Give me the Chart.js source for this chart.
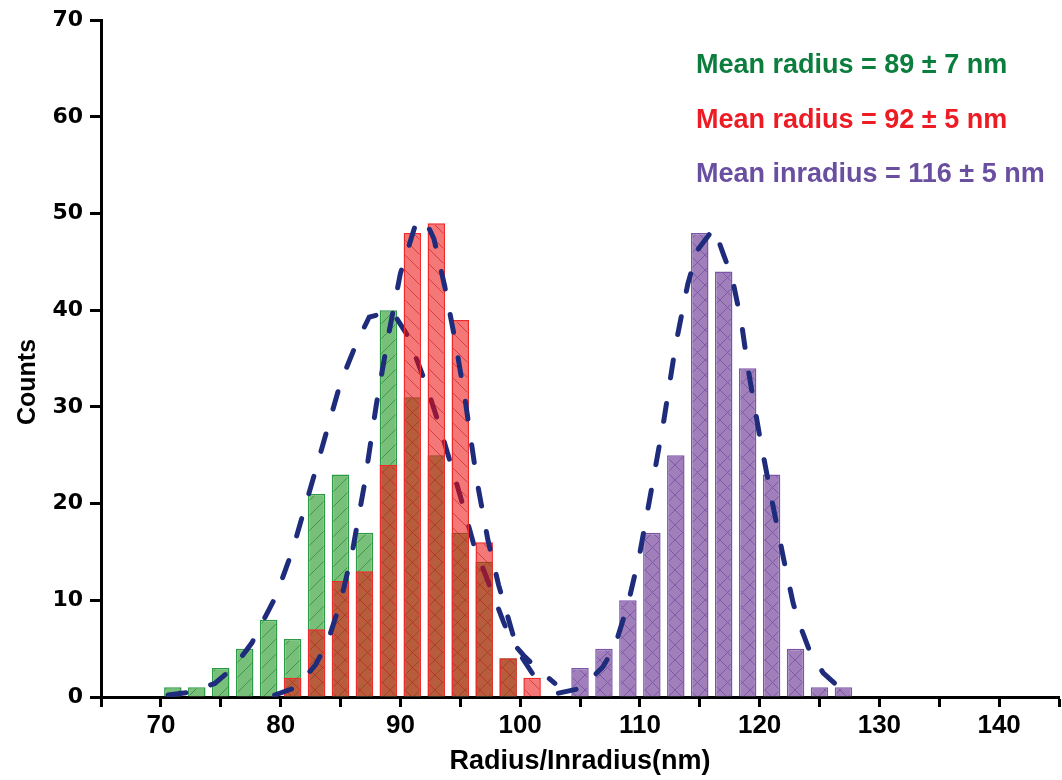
<!DOCTYPE html>
<html>
<head>
<meta charset="utf-8">
<script src="https://cdn.jsdelivr.net/npm/chart.js@4.4.1/dist/chart.umd.min.js"></script>
<style>
  html, body { margin: 0; padding: 0; background: #fff; }
  #wrap { width: 1062px; height: 780px; }
</style>
</head>
<body>
<div id="wrap"><canvas id="histChart" width="1062" height="780"></canvas></div>
<script>
// histogram bins (bin centres, nm) and counts
const greenBins = [71, 73, 75, 77, 79, 81, 83, 85, 87, 89, 91, 93, 95, 97, 99];
const greenCounts = [1, 1, 3, 5, 8, 6, 21, 23, 17, 40, 31, 25, 17, 14, 4];
const redBins = [81, 83, 85, 87, 89, 91, 93, 95, 97, 99, 101];
const redCounts = [2, 7, 12, 13, 24, 48, 49, 39, 16, 4, 2];
const purpleBins = [105, 107, 109, 111, 113, 115, 117, 119, 121, 123, 125, 127];
const purpleCounts = [3, 5, 10, 17, 25, 48, 44, 34, 23, 5, 1, 1];

// fitted curves
const greenFitX = [70.6, 72.4, 74.5, 76.1, 77.6, 79.6, 81.0, 83.0, 85.0, 86.3, 87.4, 89.3, 90.6, 92.1, 93.3, 95.0, 96.1, 97.3, 98.6, 99.3, 100.3, 101.3, 102.9];
const greenFitY = [0.2, 0.5, 1.4, 3.1, 5.6, 10.4, 15.2, 23.8, 32.5, 36.5, 39.3, 39.9, 37.4, 32.5, 27.9, 20.8, 15.9, 12.0, 7.8, 5.7, 4.3, 3.1, 1.4];
const redFitX = [79.5, 81.3, 82.9, 83.9, 85.0, 86.0, 87.0, 88.0, 89.0, 90.0, 91.2, 92.0, 92.8, 93.7, 94.6, 95.4, 96.4, 97.3, 98.2, 99.6, 100.1, 101.2, 102.2];
const redFitY = [0.2, 1.0, 3.3, 5.6, 9.8, 15.1, 22.0, 30.3, 37.4, 43.8, 48.6, 49.5, 47.4, 42.5, 36.7, 30.8, 22.3, 16.3, 11.6, 5.6, 4.2, 2.1, 1.0];
const purpleFitX = [103.2, 105.1, 106.9, 107.9, 108.6, 109.1, 110.0, 111.0, 112.0, 113.0, 114.0, 114.8, 116.2, 117.0, 117.7, 118.5, 119.0, 120.0, 121.0, 122.0, 122.8, 123.4, 124.1, 125.3, 126.9];
const purpleFitY = [0.4, 0.9, 3.1, 5.2, 8.0, 10.1, 14.9, 21.7, 28.6, 36.5, 42.7, 46.2, 48.5, 45.7, 43.4, 38.6, 34.2, 27.0, 20.5, 14.3, 9.7, 7.3, 5.0, 2.5, 0.7];

const notes = ['Mean radius = 89 \u00b1 7 nm', 'Mean radius = 92 \u00b1 5 nm', 'Mean inradius = 116 \u00b1 5 nm'];
const noteColors = ['#0b7e3d', '#ed1c24', '#6a4fa0'];

const FONT = "'Liberation Sans', Arial, sans-serif";
const WIDE = "'DejaVu Sans', Verdana, sans-serif";

function pts(xs, ys) {
    return xs.map((x, i) => ({ x: x, y: ys[i] }));
}

function hatch(fill, line, dirs) {
    const s = 15;
    const c = document.createElement('canvas');
    c.width = s;
    c.height = s;
    const g = c.getContext('2d');
    g.fillStyle = fill;
    g.fillRect(0, 0, s, s);
    g.strokeStyle = line;
    g.lineWidth = 1;
    dirs.forEach(d => {
        [-s, 0, s].forEach(o => {
            g.beginPath();
            if (d === '/') { g.moveTo(o, s); g.lineTo(o + s, 0); }
            else { g.moveTo(o, 0); g.lineTo(o + s, s); }
            g.stroke();
        });
    });
    return g.createPattern(c, 'repeat');
}

const fitLine = {
    type: 'line',
    borderColor: '#1f2c7c',
    borderWidth: 5,
    borderDash: [18, 26],
    borderCapStyle: 'round',
    pointRadius: 0,
    fill: false,
    tension: 0,
};

const barBase = {
    type: 'bar',
    borderWidth: 1.5,
    barPercentage: 0.73,
    categoryPercentage: 1,
    grouped: false,
};

const textPlugin = {
    id: 'texts',
    afterDraw(chart) {
        const ctx = chart.ctx;
        ctx.save();
        ctx.font = 'bold 27px ' + FONT;
        ctx.textAlign = 'left';
        ctx.textBaseline = 'alphabetic';
        const ys = [73, 128, 182];
        notes.forEach((t, i) => {
            ctx.fillStyle = noteColors[i];
            ctx.fillText(t, 696, ys[i]);
        });
        ctx.fillStyle = '#000';
        ctx.font = 'bold 25px ' + FONT;
        ctx.translate(35, 382);
        ctx.rotate(-Math.PI / 2);
        ctx.textAlign = 'center';
        ctx.fillText('Counts', 0, 0);
        ctx.restore();
    }
};

new Chart(document.getElementById('histChart'), {
    type: 'bar',
    data: {
        datasets: [
            Object.assign({}, barBase, {
                data: pts(greenBins, greenCounts),
                backgroundColor: hatch('#78c07a', '#3a9a4a', ['/']),
                borderColor: '#2b9b45',
                order: 5,
            }),
            Object.assign({}, fitLine, { data: pts(greenFitX, greenFitY), order: 4 }),
            Object.assign({}, barBase, {
                data: pts(redBins, redCounts),
                backgroundColor: hatch('rgba(235,10,10,0.55)', 'rgba(200,20,20,0.6)', ['\\']),
                borderColor: '#ee2a2a',
                order: 3,
            }),
            Object.assign({}, fitLine, { data: pts(redFitX, redFitY), order: 2 }),
            Object.assign({}, barBase, {
                data: pts(purpleBins, purpleCounts),
                backgroundColor: hatch('#a17fba', '#7d5aa8', ['/', '\\']),
                borderColor: '#7b56a8',
                order: 1,
            }),
            Object.assign({}, fitLine, { data: pts(purpleFitX, purpleFitY), order: 0 }),
        ],
    },
    options: {
        responsive: false,
        animation: false,
        layout: { padding: { top: 20, right: 0, bottom: 0, left: 0 } },
        plugins: { legend: { display: false }, tooltip: { enabled: false } },
        scales: {
            x: {
                type: 'linear',
                min: 65,
                max: 145,
                offset: false,
                ticks: {
                    stepSize: 5,
                    autoSkip: false,
                    maxRotation: 0,
                    padding: 3,
                    color: '#000',
                    font: { family: FONT, size: 26, weight: 'bold' },
                    callback: v => (v % 10 === 0 ? v : ''),
                },
                grid: { drawOnChartArea: false, tickLength: 10, tickWidth: 3, tickColor: '#000', offset: false },
                border: { color: '#000', width: 3 },
                title: {
                    display: true,
                    text: 'Radius/Inradius(nm)',
                    color: '#000',
                    font: { family: FONT, size: 27, weight: 'bold' },
                    padding: { top: 0, bottom: 2 },
                },
                afterFit: s => { s.height = 83; },
            },
            y: {
                min: 0,
                max: 70,
                ticks: {
                    stepSize: 10,
                    padding: 7,
                    color: '#000',
                    font: { family: WIDE, size: 22, weight: 'bold' },
                },
                grid: { drawOnChartArea: false, tickLength: 11, tickWidth: 3, tickColor: '#000' },
                border: { color: '#000', width: 3 },
                afterFit: s => { s.width = 101; },
            },
        },
    },
    plugins: [textPlugin],
});
</script>
</body>
</html>
